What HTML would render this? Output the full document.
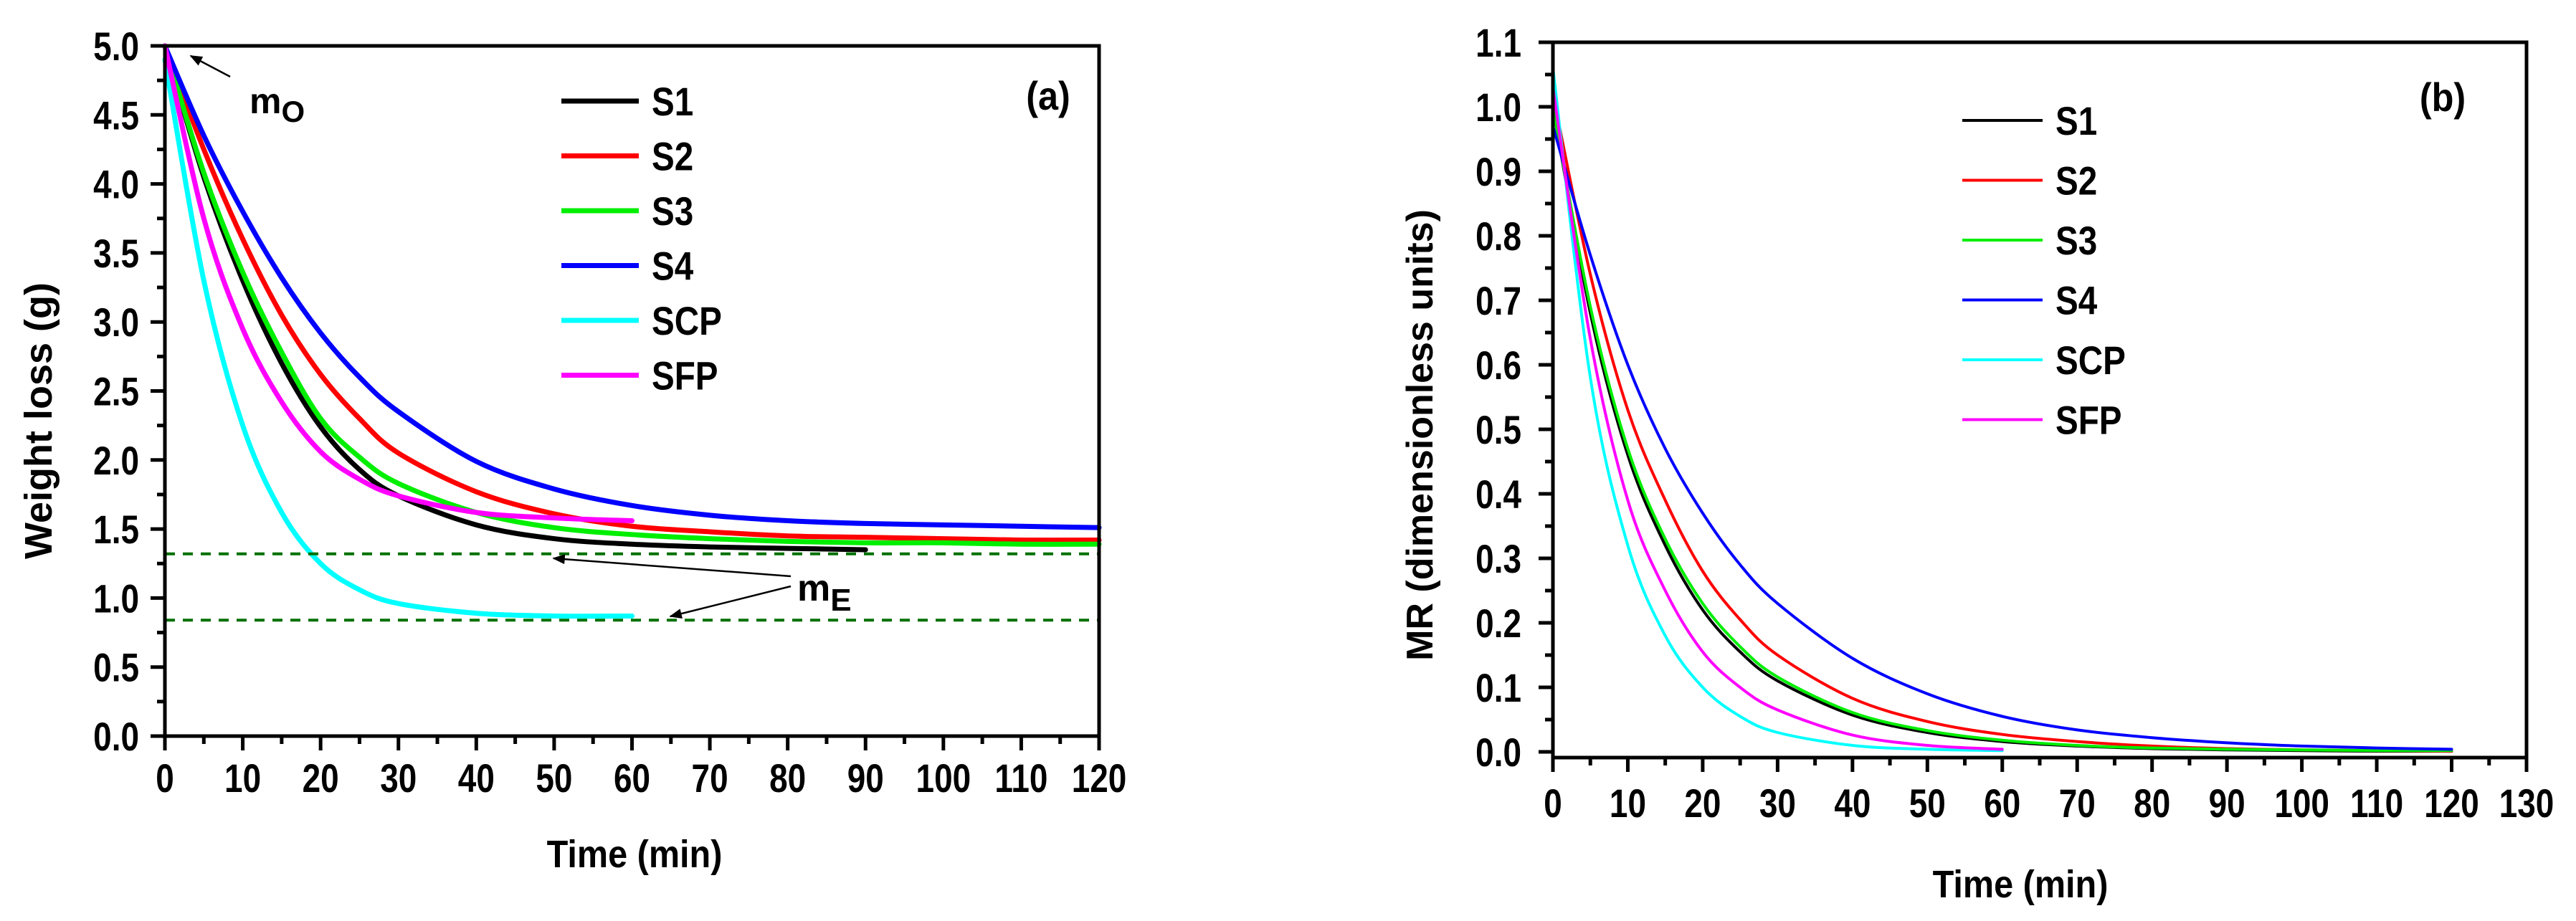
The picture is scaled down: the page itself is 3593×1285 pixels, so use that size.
<!DOCTYPE html>
<html><head><meta charset="utf-8"><style>
html,body{margin:0;padding:0;background:#fff}
svg{display:block}
text{font-family:"Liberation Sans",sans-serif;font-weight:bold;fill:#000}
</style></head><body>
<svg id="fig" width="3593" height="1285" viewBox="0 0 3593 1285" xmlns="http://www.w3.org/2000/svg">
<defs><marker id="ah" viewBox="0 0 10 10" refX="9" refY="5" markerWidth="7" markerHeight="7" orient="auto-start-reverse"><path d="M0,1 L10,5 L0,9 z" fill="#000"/></marker></defs>
<g id="chartA"></g>
<g id="chartB"></g>
</svg>
<script>
// ---- Chart (a) data ----
const seriesNames = ["S1","S2","S3","S4","SCP","SFP"];
const seriesColors = ["#000000","#ff0000","#00ee00","#0000ff","#00ffff","#ff00ff"];
const timeA = [0,5,10,15,20,25,30,40,50,60,70,80,90,100,110,120];
const wS1 = [5.0,4.05,3.30,2.70,2.24,1.93,1.74,1.53,1.43,1.39,1.37,1.36,1.35];
const wS2 = [5.0,4.25,3.60,3.05,2.62,2.30,2.05,1.77,1.61,1.52,1.48,1.45,1.44,1.43,1.42,1.42];
const wS3 = [5.0,4.08,3.36,2.78,2.30,2.02,1.83,1.62,1.51,1.46,1.43,1.41,1.40,1.40,1.39,1.39];
const wS4 = [5.0,4.35,3.80,3.32,2.92,2.60,2.35,1.99,1.79,1.67,1.60,1.56,1.54,1.53,1.52,1.51];
const wSCP = [4.9,3.30,2.25,1.62,1.25,1.06,0.96,0.89,0.87,0.87];
const wSFP = [5.0,3.75,2.95,2.42,2.06,1.86,1.74,1.62,1.58,1.56];
const mE = [1.32,0.84];
const yTicksA = ["0.0","0.5","1.0","1.5","2.0","2.5","3.0","3.5","4.0","4.5","5.0"];
const xTicksA = ["0","10","20","30","40","50","60","70","80","90","100","110","120"];
// ---- Chart (b) data ----
const timeB = [0,5,10,15,20,25,30,40,50,60,70,80,90,100,110,120];
const mrS1 = [1.00,0.68,0.46,0.32,0.22,0.155,0.11,0.057,0.03,0.016,0.009,0.005,0.003,0.002,0.001,0.001];
const mrS2 = [1.02,0.74,0.53,0.39,0.28,0.205,0.15,0.083,0.047,0.027,0.016,0.009,0.005,0.003,0.002,0.001];
const mrS3 = [1.00,0.69,0.47,0.33,0.23,0.163,0.116,0.061,0.033,0.018,0.010,0.006,0.004,0.003,0.002,0.002];
const mrS4 = [0.97,0.77,0.60,0.47,0.37,0.29,0.23,0.145,0.09,0.055,0.034,0.022,0.014,0.009,0.006,0.004];
const mrSCP = [1.06,0.58,0.32,0.18,0.10,0.055,0.03,0.01,0.004,0.002];
const mrSFP = [1.03,0.64,0.39,0.25,0.155,0.10,0.065,0.026,0.01,0.004];
const yTicksB = ["0.0","0.1","0.2","0.3","0.4","0.5","0.6","0.7","0.8","0.9","1.0","1.1"];
const xTicksB = ["0","10","20","30","40","50","60","70","80","90","100","110","120","130"];

const NS="http://www.w3.org/2000/svg";
function mk(parent,tag,attrs){const e=document.createElementNS(NS,tag);for(const k in attrs)e.setAttribute(k,attrs[k]);parent.appendChild(e);return e;}
function txt(parent,x,y,s,size,anchor,sx){const t=mk(parent,"text",{x:0,y:0,"font-size":size,"text-anchor":anchor||"start",transform:`translate(${x},${y}) scale(${sx||0.82},1)`});t.textContent=s;return t;}
function smoothPath(pts){let d=`M${pts[0][0]},${pts[0][1]}`;for(let i=0;i<pts.length-1;i++){const p0=pts[Math.max(0,i-1)],p1=pts[i],p2=pts[i+1],p3=pts[Math.min(pts.length-1,i+2)];const c1=[p1[0]+(p2[0]-p0[0])/6,p1[1]+(p2[1]-p0[1])/6],c2=[p2[0]-(p3[0]-p1[0])/6,p2[1]-(p3[1]-p1[1])/6];d+=` C${c1[0]},${c1[1]} ${c2[0]},${c2[1]} ${p2[0]},${p2[1]}`;}return d;}

// ===== Chart A =====
(function(){
const g=document.getElementById("chartA");
const X0=230,X1=1533,Y0=1027,Y1=64;
const xs=t=>X0+(X1-X0)*t/120, ys=v=>Y0-(Y0-Y1)*v/5;
const ser=[wS1,wS2,wS3,wS4,wSCP,wSFP];
ser.forEach((arr,i)=>{const pts=arr.map((v,j)=>[xs(timeA[j]),ys(v)]);
 const p=mk(g,"path",{d:smoothPath(pts),fill:"none",stroke:seriesColors[i],"stroke-width":7,"stroke-linecap":"round"});
 
 });
mE.forEach((v,i)=>{const l=mk(g,"line",{x1:X0,x2:X1,y1:ys(v),y2:ys(v),stroke:"#007000","stroke-width":4,"stroke-dasharray":"14,11"});
 
 });
const ax=mk(g,"path",{d:`M${X0-20},${Y1} H${X1} V${Y0} H${X0-20} M${X0},${Y1} V${Y0+20}`,fill:"none",stroke:"#000","stroke-width":5});


yTicksA.forEach((s,i)=>{const v=parseFloat(s),y=ys(v);mk(g,"line",{x1:X0-20,x2:X0,y1:y,y2:y,stroke:"#000","stroke-width":5});
 if(i<yTicksA.length-1)mk(g,"line",{x1:X0-11,x2:X0,y1:ys(v+0.25),y2:ys(v+0.25),stroke:"#000","stroke-width":5});
 const t=txt(g,194,y+20,s,56,"end");});
xTicksA.forEach((s,i)=>{const v=+s,x=xs(v);mk(g,"line",{x1:x,x2:x,y1:Y0,y2:Y0+20,stroke:"#000","stroke-width":5});
 if(i<xTicksA.length-1)mk(g,"line",{x1:xs(v+5),x2:xs(v+5),y1:Y0,y2:Y0+11,stroke:"#000","stroke-width":5});
 const t=txt(g,x,1105,s,56,"middle");});
let t=txt(g,885,1210,"Time (min)",54,"middle",0.9);
t=mk(g,"text",{x:0,y:0,"font-size":54,"text-anchor":"middle",transform:"translate(72,587) rotate(-90)"});t.textContent="Weight loss (g)";

t=txt(g,1462,153,"(a)",56,"middle",0.9);
seriesNames.forEach((n,i)=>{const y=141+76.5*i;const l=mk(g,"line",{x1:783,x2:891,y1:y,y2:y,stroke:seriesColors[i],"stroke-width":7});
 
 const tt=txt(g,909,y+20,n,56,"start",0.85);});
// annotations
t=mk(g,"text",{x:348,y:158,"font-size":50,"font-weight":"normal"});t.innerHTML='m<tspan font-size="42" dy="12">O</tspan>';

t=mk(g,"text",{x:1112,y:838,"font-size":52,"font-weight":"normal"});t.innerHTML='m<tspan font-size="44" dy="14" font-weight="bold">E</tspan>';

[[321,107,266,78],[1103,804,772,779],[1103,818,935,860]].forEach((a,i)=>{const l=mk(g,"line",{x1:a[0],y1:a[1],x2:a[2],y2:a[3],stroke:"#000","stroke-width":2.5,"marker-end":"url(#ah)"});
 });
})();

// ===== Chart B =====
(function(){
const g=document.getElementById("chartB");
const X0=2166,X1=3524,YB=1057,Y0=1049,Y1=59;
const xs=t=>X0+(X1-X0)*t/130, ys=v=>Y0-(Y0-Y1)*v/1.1;
const ser=[mrS1,mrS2,mrS3,mrS4,mrSCP,mrSFP];
ser.forEach((arr,i)=>{const pts=arr.map((v,j)=>[xs(timeB[j]),ys(v)]);
 const p=mk(g,"path",{d:smoothPath(pts),fill:"none",stroke:seriesColors[i],"stroke-width":4,"stroke-linecap":"round"});
 
 });
const ax=mk(g,"path",{d:`M${X0-20},${Y1} H${X1} V${YB} H${X0} M${X0},${Y1} V${YB+20}`,fill:"none",stroke:"#000","stroke-width":5});


yTicksB.forEach((s,i)=>{const v=parseFloat(s),y=ys(v);mk(g,"line",{x1:X0-20,x2:X0,y1:y,y2:y,stroke:"#000","stroke-width":5});
 if(i<yTicksB.length-1)mk(g,"line",{x1:X0-11,x2:X0,y1:ys(v+0.05),y2:ys(v+0.05),stroke:"#000","stroke-width":5});
 const t=txt(g,2122,y+20,s,56,"end");});
xTicksB.forEach((s,i)=>{const v=+s,x=xs(v);mk(g,"line",{x1:x,x2:x,y1:YB,y2:YB+20,stroke:"#000","stroke-width":5});
 if(i<xTicksB.length-1)mk(g,"line",{x1:xs(v+5),x2:xs(v+5),y1:YB,y2:YB+11,stroke:"#000","stroke-width":5});
 const t=txt(g,x,1140,s,56,"middle");});
let t=txt(g,2818,1252,"Time (min)",54,"middle",0.9);
t=mk(g,"text",{x:0,y:0,"font-size":52,"text-anchor":"middle",transform:"translate(1998,607) rotate(-90)"});t.textContent="MR (dimensionless units)";

t=txt(g,3407,155,"(b)",56,"middle",0.9);
seriesNames.forEach((n,i)=>{const y=168+83.5*i;const l=mk(g,"line",{x1:2737,x2:2849,y1:y,y2:y,stroke:seriesColors[i],"stroke-width":4});
 
 const tt=txt(g,2867,y+20,n,56,"start",0.85);});
})();
</script>
</body></html>
